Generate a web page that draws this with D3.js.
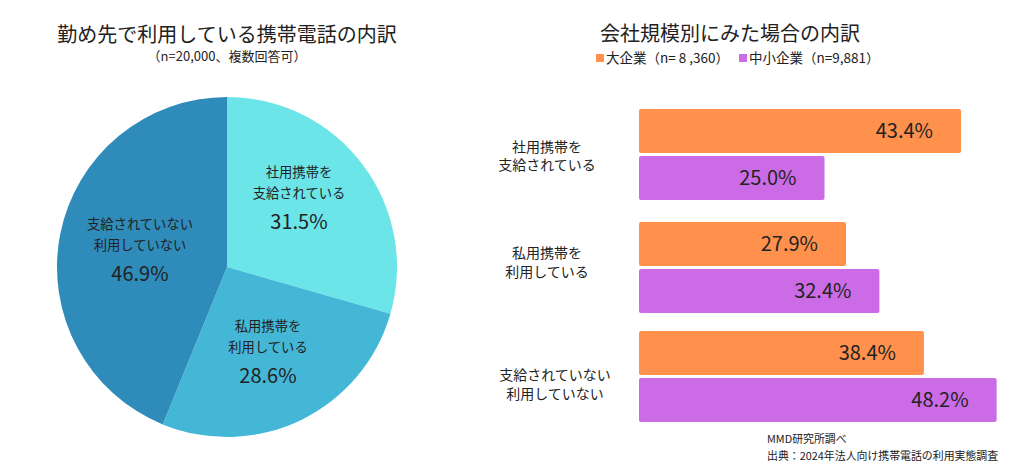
<!DOCTYPE html>
<html><head><meta charset="utf-8">
<script src="https://cdn.jsdelivr.net/npm/d3@7/dist/d3.min.js"></script>
<style>body{margin:0;background:#fff;}svg{display:block;font-family:"Noto Sans CJK JP","Noto Sans",sans-serif;}</style>
</head><body><svg id="c" width="1024" height="468"></svg>
<script>
// Pie data
const pieCategories = [["社用携帯を","支給されている"],["私用携帯を","利用している"],["支給されていない","利用していない"]];
const pieValues = [31.5, 28.6, 46.9];
const pieColors = ["#6ce5e8","#44b7d7","#2e8bba"];
// Bar data
const barCategories = [["社用携帯を","支給されている"],["私用携帯を","利用している"],["支給されていない","利用していない"]];
const seriesNames = ["大企業（n= 8 ,360）","中小企業（n=9,881）"];
const largeValues = [43.4, 27.9, 38.4];
const smeValues = [25.0, 32.4, 48.2];
const seriesColors = ["#ff914d","#cb6ce6"];

const svg = d3.select("#c");
const txt = "#222";

// Titles
svg.append("text").attr("x",227).attr("y",42).attr("text-anchor","middle").attr("font-size",20).attr("fill",txt).text("勤め先で利用している携帯電話の内訳");
svg.append("text").attr("x",227).attr("y",61).attr("text-anchor","middle").attr("font-size",13).attr("fill",txt).text("（n=20,000、複数回答可）");
svg.append("text").attr("x",730).attr("y",41).attr("text-anchor","middle").attr("font-size",20).attr("fill",txt).text("会社規模別にみた場合の内訳");

// Pie
const cx=227, cy=267, R=170;
const pie = d3.pie().sort(null).value(d=>d)(pieValues);
const arc = d3.arc().innerRadius(0).outerRadius(R);
const pg = svg.append("g").attr("transform",`translate(${cx},${cy})`);
pg.selectAll("path").data(pie).join("path").attr("d",arc).attr("fill",(d,i)=>pieColors[i]);
const pieLabelPos = [[72,-81],[41,73],[-87,-29]];
pie.forEach((d,i)=>{
  const [x,y] = pieLabelPos[i];
  const g = pg.append("g").attr("transform",`translate(${x},${y})`);
  g.append("text").attr("y",-9).attr("text-anchor","middle").attr("font-size",13.3).attr("fill",txt).text(pieCategories[i][0]);
  g.append("text").attr("y",12).attr("text-anchor","middle").attr("font-size",13.3).attr("fill",txt).text(pieCategories[i][1]);
  g.append("text").attr("y",43).attr("text-anchor","middle").attr("font-size",20).attr("fill",txt).text(pieValues[i].toFixed(1)+"%");
});

// Legend
const legX=[596,739];
seriesNames.forEach((n,i)=>{
  svg.append("rect").attr("x",legX[i]).attr("y",54).attr("width",8).attr("height",8).attr("fill",seriesColors[i]);
  svg.append("text").attr("x",legX[i]+10).attr("y",63).attr("font-size",13.5).attr("fill",txt).text(n);
});

// Bars
const x = d3.scaleLinear().domain([0,100]).range([639,639+742]);
const y1 = d3.scaleBand().domain([0,1]).range([0,91]).paddingInner(0.066);
const bg = svg.append("g");
const groupTop=[109,222,331];
const labelBase=[[152,170],[258,277],[380,399]];
const labelX=[547,547,555];
barCategories.forEach((cat,i)=>{
  const gy = groupTop[i];
  const vals=[largeValues[i], smeValues[i]];
  vals.forEach((v,j)=>{
    const yy = gy + y1(j);
    bg.append("rect").attr("x",x(0)).attr("y",yy).attr("width",x(v)-x(0)).attr("height",y1.bandwidth()).attr("rx",2).attr("fill",seriesColors[j]);
    bg.append("text").attr("x",x(v)-28).attr("y",yy+y1.bandwidth()/2+7).attr("text-anchor","end").attr("font-size",20).attr("fill",txt).text(v.toFixed(1)+"%");
  });
  bg.append("text").attr("x",labelX[i]).attr("y",labelBase[i][0]).attr("text-anchor","middle").attr("font-size",14).attr("fill",txt).text(cat[0]);
  bg.append("text").attr("x",labelX[i]).attr("y",labelBase[i][1]).attr("text-anchor","middle").attr("font-size",14).attr("fill",txt).text(cat[1]);
});

// Footer
svg.append("text").attr("x",767).attr("y",443).attr("font-size",10.9).attr("fill",txt).text("MMD研究所調べ");
svg.append("text").attr("x",767).attr("y",460).attr("font-size",10.9).attr("fill",txt).text("出典：2024年法人向け携帯電話の利用実態調査");
</script></body></html>
